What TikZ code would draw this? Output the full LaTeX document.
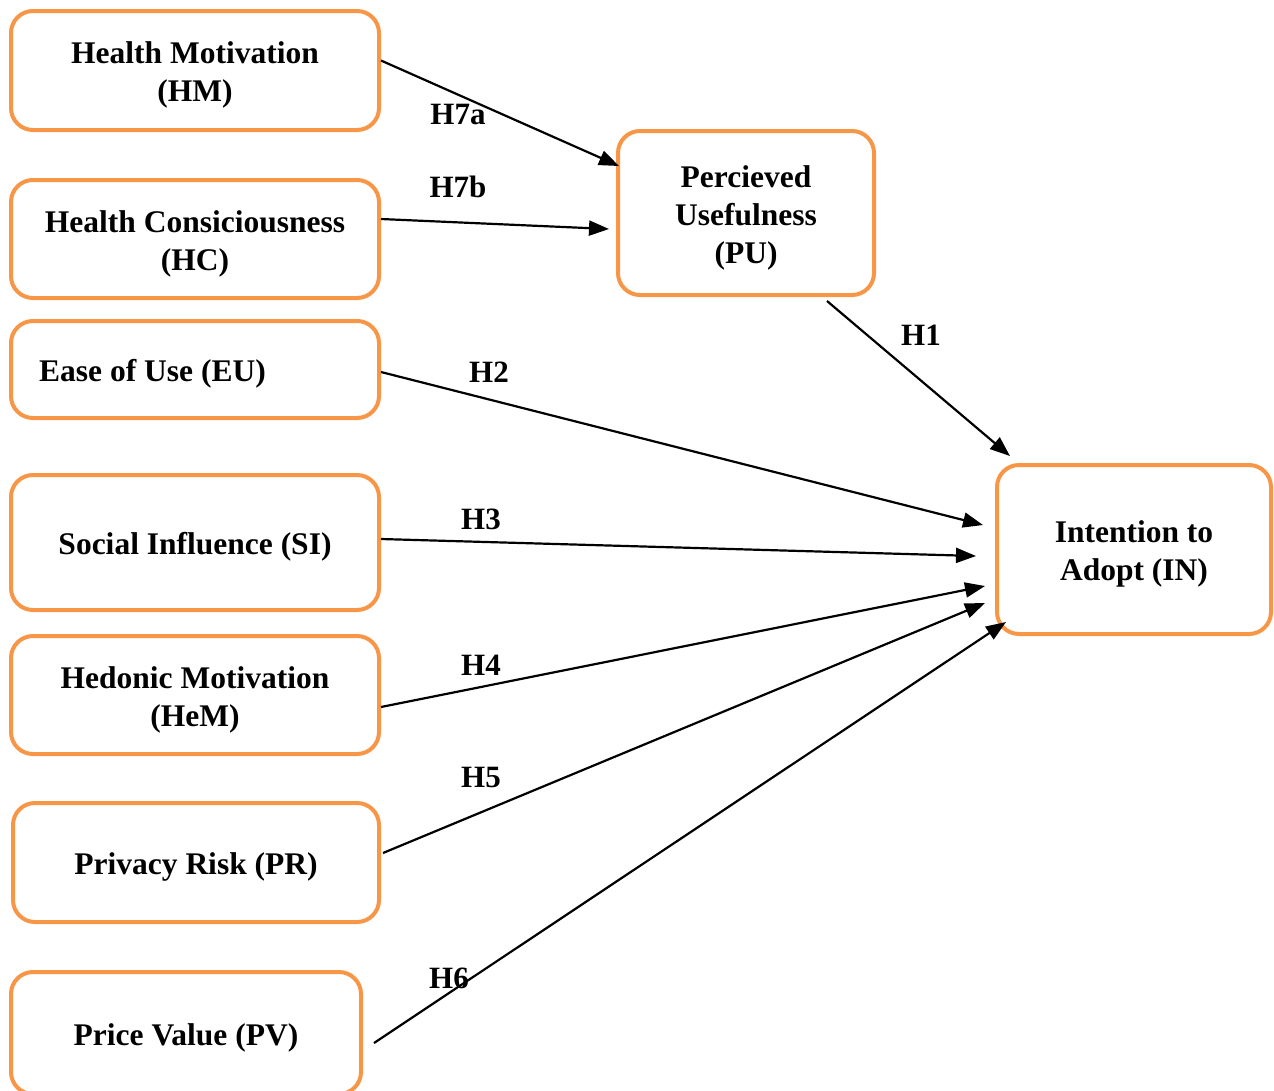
\documentclass[tikz,border=0pt]{standalone}
\usepackage{fontspec}
\setmainfont{Liberation Serif}
\usetikzlibrary{calc,arrows.meta}
\definecolor{boxorange}{HTML}{F79646}
\tikzset{
  box/.style={draw=boxorange, line width=4pt, rounded corners=22pt, inner sep=0pt},
  lbl/.style={align=center, font=\fontsize{31.5}{38}\selectfont\bfseries, inner sep=0pt, yshift=-4.5pt},
  conn/.style={line width=2.2pt, -{Triangle[length=20pt,width=15pt]}},
  hyp/.style={font=\fontsize{31}{36}\selectfont\bfseries, inner sep=0pt}
}
\begin{document}
\begin{tikzpicture}[x=1pt,y=-1pt]
\useasboundingbox (0,0) rectangle (1274,1090);
\node[box, minimum width=368, minimum height=119, label={[lbl]center:{Health Motivation\\(HM)}}] (HM) at (195,70.5) {};
\node[box, minimum width=368, minimum height=118, label={[lbl]center:{Health Consiciousness\\(HC)}}] (HC) at (195,239) {};
\node[box, minimum width=368, minimum height=97, label={[lbl, xshift=-42.5pt]center:{Ease of Use (EU)}}] (EU) at (195,369.5) {};
\node[box, minimum width=368, minimum height=135, label={[lbl]center:{Social Influence (SI)}}] (SI) at (195,542.5) {};
\node[box, minimum width=368, minimum height=118, label={[lbl]center:{Hedonic Motivation\\(HeM)}}] (HeM) at (195,695) {};
\node[box, minimum width=366, minimum height=119, label={[lbl]center:{Privacy Risk (PR)}}] (PR) at (196,862.5) {};
\node[box, minimum width=350, minimum height=122, label={[lbl]center:{Price Value (PV)}}] (PV) at (186,1033) {};
\node[box, minimum width=256, minimum height=164, label={[lbl]center:{Percieved\\Usefulness\\(PU)}}] (PU) at (746,213) {};
\node[box, minimum width=274, minimum height=169, label={[lbl]center:{Intention to\\Adopt (IN)}}] (IN) at (1134,549.5) {};

\draw[conn] ($(HM.east)+(0,-10)$) -- ($(PU.west)+(3,-47)$);
\draw[conn] ($(HC.east)+(0,-20)$) -- ($(PU.west)+(-7,16)$);
\draw[conn] ($(PU.south)+(81,4)$) -- ($(IN.west)+(15,-93.5)$);
\draw[conn] ($(EU.east)+(0,2.5)$) -- ($(IN.west)+(-12,-24.5)$);
\draw[conn] ($(SI.east)+(0,-3.5)$) -- ($(IN.west)+(-19,6.5)$);
\draw[conn] ($(HeM.east)+(0,12)$) -- ($(IN.west)+(-10,36.5)$);
\draw[conn] ($(PR.east)+(2,-9.5)$) -- ($(IN.west)+(-10,53.5)$);
\draw[conn] ($(PV.east)+(11,10)$) -- ($(IN.west)+(11,72.5)$);

\node[hyp] (h7a) at (458,114) {H7a};
\node[hyp] (h7b) at (458,187) {H7b};
\node[hyp] (h1) at (921,335) {H1};
\node[hyp] (h2) at (489,372) {H2};
\node[hyp] (h3) at (481,519) {H3};
\node[hyp] (h4) at (481,665) {H4};
\node[hyp] (h5) at (481,777) {H5};
\node[hyp] (h6) at (449,978) {H6};
\end{tikzpicture}
\end{document}
